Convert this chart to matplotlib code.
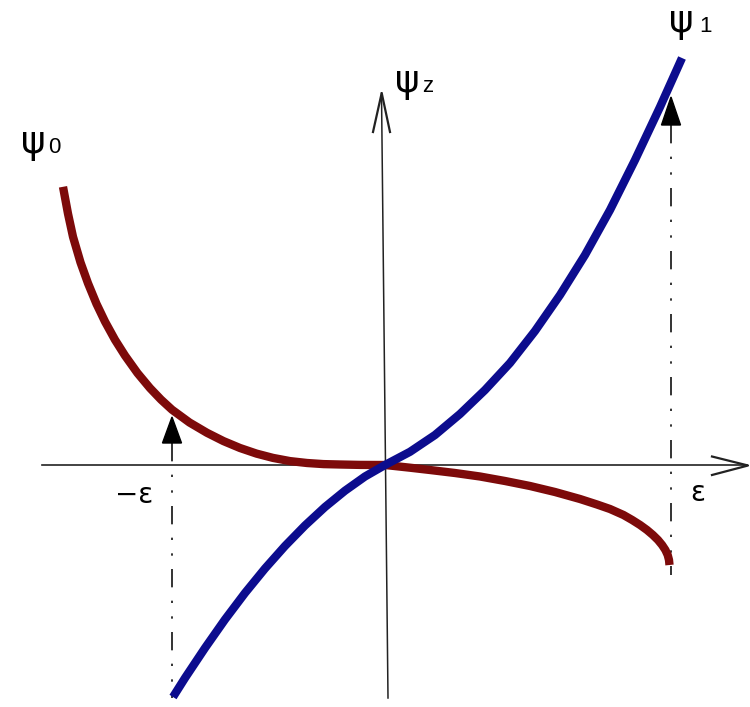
import matplotlib

matplotlib.use("Agg")
import matplotlib.pyplot as plt
from matplotlib.patches import Polygon

plt.rcParams["font.family"] = ["Liberation Sans", "DejaVu Sans"]

# psi_0 branch (dark red), sampled along the curve
psi0_x = [-3.22, -3.17, -3.12, -3.045, -2.97, -2.885, -2.80, -2.70, -2.60, -2.475,
          -2.35, -2.24, -2.13, -1.955, -1.78, -1.615, -1.45, -1.285, -1.12, -0.95,
          -0.78, -0.615, -0.45, -0.25, 0.0,
          0.25, 0.45, 0.70, 0.95, 1.20, 1.45, 1.70, 1.95, 2.12, 2.25,
          2.385, 2.472, 2.551, 2.620, 2.679, 2.730, 2.771, 2.804, 2.827, 2.840, 2.845]
psi0_y = [2.782, 2.513, 2.282, 2.026, 1.817, 1.611, 1.434, 1.252, 1.094, 0.919,
          0.769, 0.654, 0.553, 0.425, 0.322, 0.239, 0.170, 0.114, 0.071, 0.039,
          0.020, 0.009, 0.005, 0.001, 0.0,
          -0.027, -0.05, -0.08, -0.115, -0.16, -0.21, -0.27, -0.34, -0.395, -0.44,
          -0.50, -0.55, -0.60, -0.65, -0.70, -0.75, -0.80, -0.85, -0.90, -0.95, -1.00]

# psi_1 branch (dark blue)
psi1_x = [-2.12, -2.0, -1.8, -1.6, -1.4, -1.2, -1.0, -0.8, -0.6, -0.4, -0.2, 0.0,
          0.25, 0.5, 0.75, 1.0, 1.25, 1.5, 1.75, 2.0, 2.25, 2.5, 2.75, 2.97]
psi1_y = [-2.32, -2.13, -1.83, -1.545, -1.28, -1.035, -0.81, -0.605, -0.42, -0.257, -0.115, 0.0,
          0.132, 0.30, 0.51, 0.75, 1.02, 1.34, 1.70, 2.10, 2.55, 3.05, 3.58, 4.07]

# the two +/- epsilon markers
eps_x = [-2.13, 2.86]
eps_labels = ["\u2212\u03b5", "\u03b5"]

red = "#7d0a0a"
blue = "#0c0c8e"
axis_color = "#222222"

fig = plt.figure(figsize=(7.5, 7.07), dpi=100)
ax = fig.add_axes([0, 0, 1, 1])
ax.set_xlim(-3.85, 3.65)
ax.set_ylim(-2.42, 4.65)
ax.axis("off")

# coordinate axes with open arrow heads
ax.plot([-3.43, 3.62], [0.0, 0.0], color=axis_color, lw=1.2)
ax.plot([3.27, 3.63, 3.27], [0.085, -0.005, -0.10], color=axis_color, lw=1.6)
ax.plot([0.03, -0.035], [-2.33, 3.72], color=axis_color, lw=1.1)
ax.plot([-0.12, -0.033, 0.05], [3.33, 3.72, 3.33], color=axis_color, lw=1.6)

# dash-dot-dot guides at -eps and +eps, with filled arrows
dash = (11.0, 8.0, 1.4, 8.0, 1.4, 8.0)
ax.plot([eps_x[0], eps_x[0]], [0.22, -2.33], color="#111111", lw=1.2, dashes=dash)
ax.plot([eps_x[1], eps_x[1]], [3.40, -1.10], color="#111111", lw=1.2, dashes=dash)
for x, tip, base in [(eps_x[0], 0.48, 0.22), (eps_x[1], 3.68, 3.40)]:
    ax.add_patch(Polygon([[x - 0.095, base], [x + 0.095, base], [x, tip]],
                         closed=True, color="black", zorder=4))

ax.plot(psi0_x, psi0_y, color=red, lw=6.0, solid_capstyle="butt", solid_joinstyle="round", zorder=3)
ax.plot(psi1_x, psi1_y, color=blue, lw=6.0, solid_capstyle="butt", solid_joinstyle="round", zorder=3)

# labels
greek = ["DejaVu Sans"]
ax.text(-3.64, 3.12, "\u03c8", fontsize=27, family=greek, ha="left", va="baseline")
ax.text(-3.37, 3.12, "0", fontsize=16, ha="left", va="baseline")
ax.text(0.10, 3.73, "\u03c8", fontsize=27, family=greek, ha="left", va="baseline")
ax.text(0.37, 3.73, "z", fontsize=16, ha="left", va="baseline")
ax.text(2.84, 4.33, "\u03c8", fontsize=27, family=greek, ha="left", va="baseline")
ax.text(3.14, 4.33, "1", fontsize=16, ha="left", va="baseline")
ax.text(-2.51, -0.30, eps_labels[0], fontsize=20, family=greek, ha="center", va="center")
ax.text(3.13, -0.28, eps_labels[1], fontsize=20, family=greek, ha="center", va="center")

fig.savefig("out.png", dpi=100)
